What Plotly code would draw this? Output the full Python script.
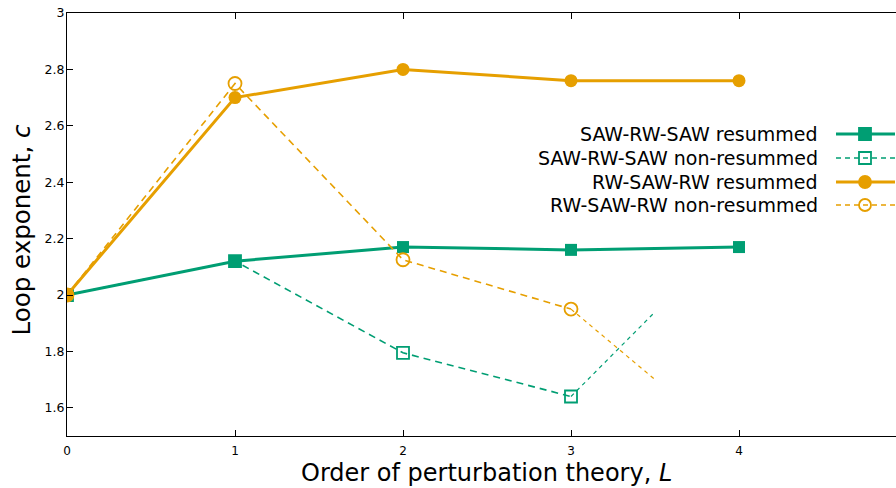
import plotly.graph_objects as go

# Perturbation order L
orders = [0, 1, 2, 3, 4]
orders_nonres = [0, 1, 2, 3]

# Loop exponent c for each scheme
saw_resummed = [2.0, 2.12, 2.17, 2.16, 2.17]
saw_nonres = [2.0, 2.12, 1.795, 1.64]
rw_resummed = [2.0, 2.70, 2.80, 2.76, 2.76]
rw_nonres = [2.0, 2.75, 2.125, 1.95]

# Extrapolated continuation of the non-resummed series
ext_x = [3, 3.5]
ext_saw = [1.64, 1.94]
ext_rw = [1.95, 1.70]

GREEN = "#009e73"
ORANGE = "#e69f00"
FONT = "DejaVu Sans"

fig = go.Figure()

fig.add_trace(go.Scatter(x=ext_x, y=ext_saw, mode="lines",
                         line=dict(color=GREEN, width=1.2, dash="4px,4px"),
                         showlegend=False))
fig.add_trace(go.Scatter(x=ext_x, y=ext_rw, mode="lines",
                         line=dict(color=ORANGE, width=1.2, dash="4px,4px"),
                         showlegend=False))

fig.add_trace(go.Scatter(x=orders, y=saw_resummed, mode="lines+markers",
                         line=dict(color=GREEN, width=3),
                         marker=dict(symbol="square", size=12, color=GREEN),
                         name="SAW-RW-SAW resummed", showlegend=False))
fig.add_trace(go.Scatter(x=orders_nonres, y=saw_nonres, mode="lines+markers",
                         line=dict(color=GREEN, width=1.6, dash="7px,5px"),
                         marker=dict(symbol="square-open", size=12, color=GREEN,
                                     line=dict(width=1.8, color=GREEN)),
                         name="SAW-RW-SAW non-resummed", showlegend=False))
fig.add_trace(go.Scatter(x=orders, y=rw_resummed, mode="lines+markers",
                         line=dict(color=ORANGE, width=3),
                         marker=dict(symbol="circle", size=13, color=ORANGE),
                         name="RW-SAW-RW resummed", showlegend=False))
fig.add_trace(go.Scatter(x=orders_nonres, y=rw_nonres, mode="lines+markers",
                         line=dict(color=ORANGE, width=1.6, dash="7px,5px"),
                         marker=dict(symbol="circle-open", size=13, color=ORANGE,
                                     line=dict(width=1.8, color=ORANGE)),
                         name="RW-SAW-RW non-resummed", showlegend=False))

# Page geometry (pixels) used to place the key and axis titles
W, H = 896, 488
ML, MR, MT, MB = 67, 0, 13, 52
pw, ph = W - ML - MR, H - MT - MB


def px(xp):
    return (xp - ML) / pw


def py(yp):
    return 1 - (yp - MT) / ph


# Key on the right: text right-aligned, sample line to its right
key = [
    ("SAW-RW-SAW resummed", GREEN, "solid", 3, "square", True, 134),
    ("SAW-RW-SAW non-resummed", GREEN, "dash", 1.6, "square", False, 158),
    ("RW-SAW-RW resummed", ORANGE, "solid", 3, "circle", True, 182),
    ("RW-SAW-RW non-resummed", ORANGE, "dash", 1.6, "circle", False, 205),
]
shapes = []
annotations = []
for label, col, dash, lw, sym, filled, yp in key:
    annotations.append(dict(xref="paper", yref="paper", x=px(820), y=py(yp),
                            text=label, showarrow=False, xanchor="right",
                            yanchor="middle",
                            font=dict(family=FONT, size=19, color="#000")))
    shapes.append(dict(type="line", xref="paper", yref="paper",
                       x0=px(836), x1=px(895), y0=py(yp), y1=py(yp),
                       line=dict(color=col, width=lw,
                                 dash="solid" if dash == "solid" else "5px,4px")))
    r = 6
    shapes.append(dict(type="rect" if sym == "square" else "circle",
                       xref="paper", yref="paper",
                       x0=px(865 - r), x1=px(865 + r),
                       y0=py(yp + r), y1=py(yp - r),
                       fillcolor=col if filled else "rgba(0,0,0,0)",
                       line=dict(color=col, width=1.8)))

# Axis titles
annotations.append(dict(xref="paper", yref="paper", x=px(486), y=py(473),
                        text="Order of perturbation theory, <i>L</i>",
                        showarrow=False, xanchor="center", yanchor="middle",
                        borderpad=0,
                        font=dict(family=FONT, size=24, color="#000")))
annotations.append(dict(xref="paper", yref="paper", x=px(21.5), y=py(230),
                        text="Loop exponent, <i>c</i>", textangle=-90,
                        showarrow=False, xanchor="center", yanchor="middle",
                        font=dict(family=FONT, size=24.5, color="#000")))

fig.update_layout(
    width=W, height=H,
    margin=dict(l=ML, r=MR, t=MT, b=MB),
    plot_bgcolor="white", paper_bgcolor="white",
    font=dict(family=FONT, size=12, color="#000"),
    shapes=shapes, annotations=annotations,
)
fig.update_xaxes(range=[0, 4.9345], tickvals=[0, 1, 2, 3, 4],
                 ticks="inside", ticklen=6, tickcolor="#000",
                 showline=True, linecolor="#000", linewidth=1, mirror="ticks",
                 showgrid=False, zeroline=False, ticklabelstandoff=4,
                 tickfont=dict(family=FONT, size=12))
fig.update_yaxes(range=[1.5, 3.0], tickvals=[1.6, 1.8, 2.0, 2.2, 2.4, 2.6, 2.8, 3.0],
                 ticktext=["1.6", "1.8", "2", "2.2", "2.4", "2.6", "2.8", "3"],
                 ticks="inside", ticklen=6, tickcolor="#000",
                 showline=True, linecolor="#000", linewidth=1, mirror=False,
                 showgrid=False, zeroline=False, ticklabelstandoff=-1,
                 tickfont=dict(family=FONT, size=12.5))

fig.write_html("out.html")
